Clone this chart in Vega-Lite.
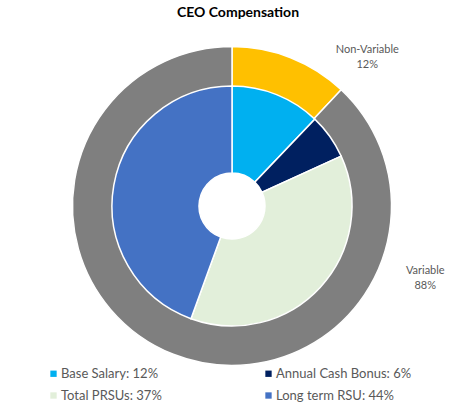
{
  "$schema": "https://vega.github.io/schema/vega-lite/v6.json",
  "width": 464,
  "height": 352,
  "autosize": {"type": "none"},
  "padding": {"left": 0, "top": 30, "right": 7, "bottom": 32},
  "background": "white",
  "title": {
    "text": "CEO Compensation",
    "font": "Lato",
    "fontSize": 14,
    "fontWeight": "bold",
    "color": "black",
    "dx": 6,
    "offset": 10
  },
  "datasets": {
    "outer": [
      {"segment": "Non-Variable", "share": 12, "idx": 1, "label": "Non-Variable\n12%"},
      {"segment": "Variable", "share": 88, "idx": 2, "label": "Variable\n88%"}
    ],
    "inner": [
      {"component": "Base Salary: 12%", "share": 12, "idx": 1},
      {"component": "Annual Cash Bonus: 6%", "share": 6, "idx": 2},
      {"component": "Total PRSUs: 37%", "share": 37, "idx": 3},
      {"component": "Long term RSU: 44%", "share": 44, "idx": 4}
    ]
  },
  "layer": [
    {
      "data": {"name": "outer"},
      "mark": {"type": "arc", "outerRadius": 159.5, "innerRadius": 118, "stroke": "white", "strokeWidth": 1.5},
      "encoding": {
        "theta": {"field": "share", "type": "quantitative", "stack": true},
        "order": {"field": "idx", "type": "quantitative"},
        "color": {
          "field": "segment",
          "type": "nominal",
          "scale": {"domain": ["Non-Variable", "Variable"], "range": ["#FFC000", "#7F7F7F"]},
          "legend": null
        }
      }
    },
    {
      "data": {"name": "inner"},
      "mark": {"type": "arc", "outerRadius": 120, "innerRadius": 33, "stroke": "white", "strokeWidth": 1.5},
      "encoding": {
        "theta": {"field": "share", "type": "quantitative", "stack": true},
        "order": {"field": "idx", "type": "quantitative"},
        "color": {
          "field": "component",
          "type": "nominal",
          "scale": {
            "domain": ["Base Salary: 12%", "Annual Cash Bonus: 6%", "Total PRSUs: 37%", "Long term RSU: 44%"],
            "range": ["#00B0F0", "#002060", "#E2EFDA", "#4472C4"]
          },
          "legend": {
            "title": null,
            "orient": "none",
            "legendX": 47,
            "legendY": 337,
            "direction": "horizontal",
            "columns": 2,
            "columnPadding": 100,
            "rowPadding": 8,
            "padding": 0,
            "symbolType": "square",
            "symbolSize": 40,
            "symbolStrokeWidth": 0,
            "labelOffset": 1,
            "labelFont": "Lato",
            "labelFontSize": 13,
            "labelColor": "#595959",
            "labelLimit": 300
          }
        }
      }
    },
    {
      "data": {"name": "outer"},
      "mark": {"type": "text", "radius": 180, "dx": 69, "dy": 11, "font": "Lato", "fontSize": 11, "fill": "#595959", "align": "center", "baseline": "middle", "lineBreak": "\n", "lineHeight": 15},
      "encoding": {
        "theta": {"field": "share", "type": "quantitative", "stack": true},
        "order": {"field": "idx", "type": "quantitative"},
        "detail": {"field": "segment", "type": "nominal"},
        "text": {"condition": {"test": "datum.segment == 'Non-Variable'", "field": "label"}, "value": ""}
      }
    },
    {
      "data": {"name": "outer"},
      "mark": {"type": "text", "radius": 40, "dx": 208, "dy": 28, "font": "Lato", "fontSize": 11, "fill": "#595959", "align": "center", "baseline": "middle", "lineBreak": "\n", "lineHeight": 15},
      "encoding": {
        "theta": {"field": "share", "type": "quantitative", "stack": true},
        "order": {"field": "idx", "type": "quantitative"},
        "detail": {"field": "segment", "type": "nominal"},
        "text": {"condition": {"test": "datum.segment == 'Variable'", "field": "label"}, "value": ""}
      }
    }
  ],
  "resolve": {"scale": {"theta": "independent", "color": "independent"}},
  "config": {"view": {"stroke": null}}
}
